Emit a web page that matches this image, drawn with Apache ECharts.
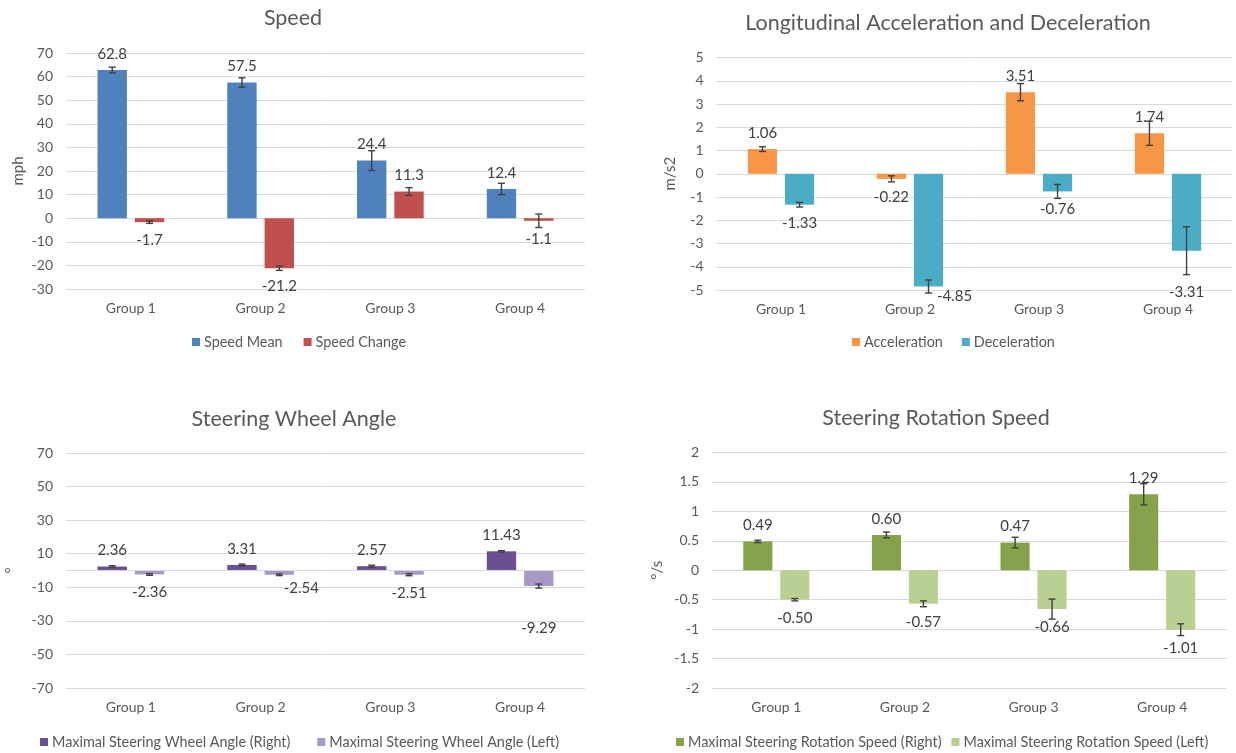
<!DOCTYPE html>
<html><head><meta charset="utf-8">
<script src="https://cdn.jsdelivr.net/npm/echarts@6/dist/echarts.min.js"></script>
<style>html,body{margin:0;padding:0;background:#fff}#c{width:1236px;height:753px}</style>
</head><body><div id="c"></div>
<script>
// ---------- data ----------
const categories = ['Group 1', 'Group 2', 'Group 3', 'Group 4'];

const speedMean      = [62.8, 57.5, 24.4, 12.4];
const speedMeanErr   = [1.2, 2.0, 4.2, 2.4];
const speedChange    = [-1.7, -21.2, 11.3, -1.1];
const speedChangeErr = [0.5, 0.9, 1.65, 2.85];

const acceleration    = [1.06, -0.22, 3.51, 1.74];
const accelerationErr = [0.1, 0.13, 0.37, 0.52];
const deceleration    = [-1.33, -4.85, -0.76, -3.31];
const decelerationErr = [0.1, 0.28, 0.3, 1.03];

const wheelRight    = [2.36, 3.31, 2.57, 11.43];
const wheelRightErr = [0.5, 0.5, 0.6, 0.4];
const wheelLeft     = [-2.36, -2.54, -2.51, -9.29];
const wheelLeftErr  = [0.5, 0.5, 0.6, 1.2];

const rotRight    = [0.49, 0.60, 0.47, 1.29];
const rotRightErr = [0.02, 0.05, 0.09, 0.18];
const rotLeft     = [-0.50, -0.57, -0.66, -1.01];
const rotLeftErr  = [0.02, 0.05, 0.17, 0.10];

// axis ranges / tick steps
const speedAxis = {min: -30, max: 70, interval: 10};
const accelAxis = {min: -5, max: 5, interval: 1};
const wheelAxis = {min: -70, max: 70, interval: 20};
const rotAxis   = {min: -2, max: 2, interval: 0.5};

// ---------- styling ----------
const FONT = 'Lato';
const TXT = '#595959';
const LBL = '#404040';
const GRIDC = '#D9D9D9';
const CAT_GAP = 0.486, BAR_GAP = 0.27;

// manual label nudges (style only): [dx, dy]
const nudges = {
  deceleration: {1: [26, -8], 3: [0, 23]},
  wheelLeft: {1: [22, -5], 3: [0, 24]}
};

const panels = [
  {title: 'Speed', tx: 293, ty: 18, grid: {left: 66, top: 53, width: 519, height: 236},
   axis: speedAxis, yName: 'mph', nameGap: 40, dec: 1,
   s: [['Speed Mean', speedMean, speedMeanErr, '#4F81BD', null], ['Speed Change', speedChange, speedChangeErr, '#C0504D', null]],
   legend: {left: 192, top: 335, itemGap: 21}},
  {title: 'Longitudinal Acceleration and Deceleration', tx: 948, ty: 23, grid: {left: 716.5, top: 57.5, width: 516, height: 232.5},
   axis: accelAxis, yName: 'm/s2', nameGap: 39, dec: 2,
   s: [['Acceleration', acceleration, accelerationErr, '#F79646', null], ['Deceleration', deceleration, decelerationErr, '#4BACC6', 'deceleration']],
   legend: {left: 852, top: 335, itemGap: 19}},
  {title: 'Steering Wheel Angle', tx: 294, ty: 419, grid: {left: 66, top: 453, width: 519, height: 235},
   axis: wheelAxis, yName: '°', nameGap: 47, dec: 2, zeroLine: true,
   s: [['Maximal Steering Wheel Angle (Right)', wheelRight, wheelRightErr, '#6B4F93', null], ['Maximal Steering Wheel Angle (Left)', wheelLeft, wheelLeftErr, '#A898C6', 'wheelLeft']],
   legend: {left: 40, top: 735, itemGap: 27}},
  {title: 'Steering Rotation Speed', tx: 936, ty: 418, grid: {left: 712, top: 452.5, width: 514.5, height: 235.5},
   axis: rotAxis, yName: '°/s', nameGap: 47, dec: 2,
   s: [['Maximal Steering Rotation Speed (Right)', rotRight, rotRightErr, '#84A24A', null], ['Maximal Steering Rotation Speed (Left)', rotLeft, rotLeftErr, '#BAD092', null]],
   legend: {left: 676, top: 735, itemGap: 10}}
];

function errRender(side) {
  return function (params, api) {
    const ci = api.value(0), v = api.value(1), e = api.value(2);
    const band = api.size([1, 0])[0];
    const bw = band * (1 - CAT_GAP) / (2 + BAR_GAP);
    const off = side * bw * (1 + BAR_GAP) / 2;
    const hi = api.coord([ci, v + e]), lo = api.coord([ci, v - e]);
    const x = hi[0] + off, cap = 3.5;
    const st = {stroke: '#404040', lineWidth: 1.4};
    return {type: 'group', children: [
      {type: 'line', shape: {x1: x, y1: hi[1], x2: x, y2: lo[1]}, style: st},
      {type: 'line', shape: {x1: x - cap, y1: hi[1], x2: x + cap, y2: hi[1]}, style: st},
      {type: 'line', shape: {x1: x - cap, y1: lo[1], x2: x + cap, y2: lo[1]}, style: st}
    ]};
  };
}

const option = {
  animation: false,
  backgroundColor: '#fff',
  textStyle: {fontFamily: FONT},
  title: [], legend: [], grid: [], xAxis: [], yAxis: [], series: []
};

panels.forEach((p, gi) => {
  option.title.push({text: p.title, left: p.tx, top: p.ty, padding: 0, textAlign: 'center', textVerticalAlign: 'middle',
    textStyle: {fontFamily: FONT, fontSize: 21.5, fontWeight: 'normal', color: TXT}});
  option.legend.push({data: p.s.map(s => s[0]), left: p.legend.left, top: p.legend.top, padding: 0,
    itemGap: p.legend.itemGap, itemWidth: 8, itemHeight: 8, icon: 'rect', selectedMode: false,
    textStyle: {fontFamily: FONT, fontSize: 14.4, color: TXT, padding: [0, 0, 0, -1]}});
  option.grid.push(Object.assign({containLabel: false}, p.grid));
  option.xAxis.push({type: 'category', gridIndex: gi, data: categories,
    axisLine: {show: false}, axisTick: {show: false},
    axisLabel: {color: TXT, fontSize: 14, fontFamily: FONT, margin: 12}});
  option.yAxis.push({type: 'value', gridIndex: gi, min: p.axis.min, max: p.axis.max, interval: p.axis.interval,
    name: p.yName, nameLocation: 'middle', nameRotate: 90, nameGap: p.nameGap,
    nameTextStyle: {color: TXT, fontSize: 15, fontFamily: FONT},
    axisLine: {show: false}, axisTick: {show: false},
    axisLabel: {color: TXT, fontSize: 14, fontFamily: FONT, margin: 13},
    splitLine: {lineStyle: {color: GRIDC, width: 1}}});
  p.s.forEach((s, si) => {
    const [name, vals, errs, color, nkey] = s;
    const nd = nkey ? nudges[nkey] : {};
    const data = vals.map((v, i) => {
      const pos = v >= 0 ? 'top' : 'bottom';
      const lab = {position: pos, distance: v >= 0 ? 8.5 : 10.5};
      if (nd[i]) lab.offset = nd[i];
      return {value: v, label: lab};
    });
    const bar = {name, type: 'bar', xAxisIndex: gi, yAxisIndex: gi, data,
      barCategoryGap: (CAT_GAP * 100) + '%', barGap: (BAR_GAP * 100) + '%',
      itemStyle: {color}, z: 2,
      label: {show: true, color: LBL, fontSize: 15, fontFamily: FONT,
        formatter: (q) => Number(q.value).toFixed(p.dec)}};
    if (p.zeroLine && si === 0) {
      bar.markLine = {silent: true, symbol: 'none', label: {show: false},
        lineStyle: {color: GRIDC, type: 'solid', width: 1}, data: [{yAxis: 0}]};
    }
    option.series.push(bar);
    option.series.push({name: name + ' error', type: 'custom', xAxisIndex: gi, yAxisIndex: gi, z: 5,
      renderItem: errRender(si === 0 ? -1 : 1), silent: true,
      data: vals.map((v, i) => [i, v, errs[i]])});
  });
});

const chart = echarts.init(document.getElementById('c'), null, {renderer: 'canvas'});
chart.setOption(option);
</script>
</body></html>
